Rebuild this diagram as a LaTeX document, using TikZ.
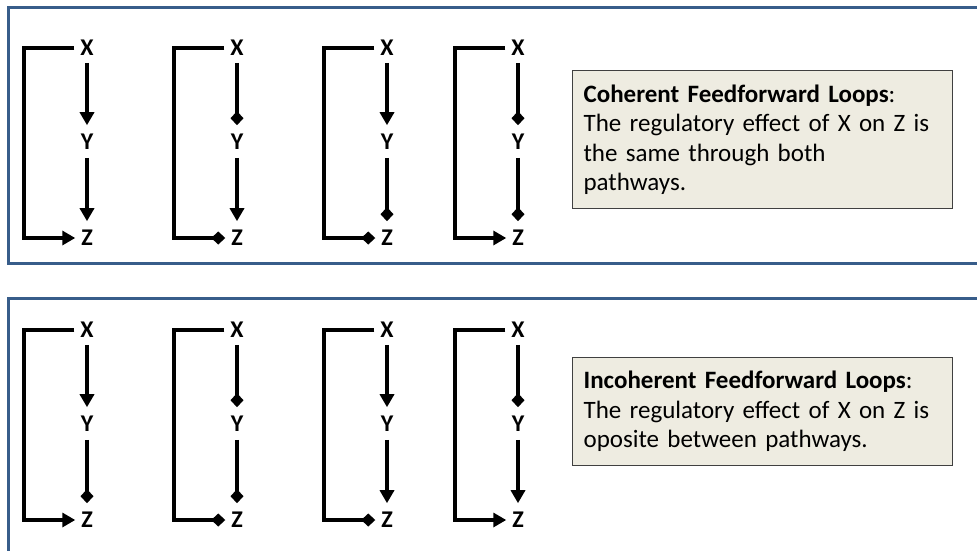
\documentclass[tikz,border=0pt]{standalone}
\usepackage{fontspec}
\setmainfont{Carlito}
\usetikzlibrary{arrows.meta}
\definecolor{panelblue}{HTML}{385D8A}
\definecolor{notefill}{HTML}{EEECE1}
% one feed-forward loop: name, x, y of X, then styles of X->Y, Y->Z, X->Z
\newcommand\motif[6]{%
  \node[lbl] (#1x) at (#2,#3) {X};
  \node[lbl] (#1y) at (#2,#3+94) {Y};
  \node[lbl] (#1z) at (#2,#3+190) {Z};
  \draw[#4] ([yshift=-7pt]#1x.south) -- ([yshift=9pt]#1y.north);
  \draw[#5] ([yshift=-8pt]#1y.south) -- ([yshift=9pt]#1z.north);
  \draw[#6] ([xshift=-6pt]#1x.west) -- ++(-50,0) |- ([xshift=-6pt]#1z.west);
}
\begin{document}
\begin{tikzpicture}[x=1pt,y=-1pt,
  lbl/.style={font=\bfseries\fontsize{24}{24}\selectfont, inner sep=0pt, outer sep=0pt},
  link/.style={line width=4pt},
  act/.style={link,-{Triangle[width=14pt,length=13pt]}},
  rep/.style={link,-{Diamond[width=13pt,length=14pt]}},
  panel/.style={draw=panelblue,line width=3pt},
  note/.style={draw=black!75,line width=1.2pt,fill=notefill,anchor=north west,
    align=left,inner xsep=11pt,inner ysep=5pt,text width=358pt,
    font=\fontsize{25}{29.5}\selectfont}
]
\clip (0,0) rectangle (977,551);
\fill[white] (0,0) rectangle (977,551);

% panels
\draw[panel] (8,8) rectangle (995,263);
\draw[panel] (8,298) rectangle (995,570);

% coherent loops
\motif{a}{87}{48}{act}{act}{act}
\motif{b}{237}{48}{rep}{act}{rep}
\motif{c}{387}{48}{act}{rep}{rep}
\motif{d}{518}{48}{rep}{rep}{act}

% incoherent loops
\motif{e}{87}{330}{act}{rep}{act}
\motif{f}{237}{330}{rep}{rep}{rep}
\motif{g}{387}{330}{act}{act}{rep}
\motif{h}{518}{330}{rep}{act}{act}

\node[note, minimum height=138pt] (coh) at (572,70)
  {\textbf{Coherent Feedforward Loops}:\\
   The regulatory effect of X on Z is\\
   the same through both\\
   pathways.};
\node[note, minimum height=108pt] (inc) at (572,357)
  {\textbf{Incoherent Feedforward Loops}:\\
   The regulatory effect of X on Z is\\
   oposite between pathways.};
\end{tikzpicture}
\end{document}
